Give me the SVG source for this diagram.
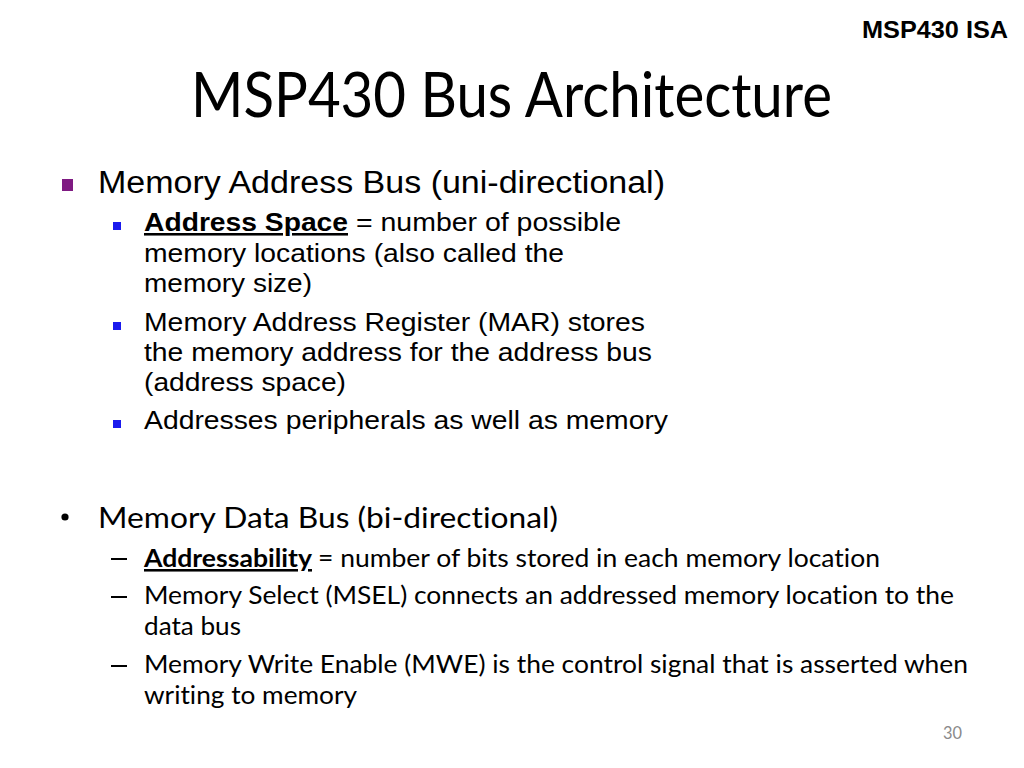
<svg xmlns="http://www.w3.org/2000/svg" width="1024" height="768" viewBox="0 0 1024 768">
  <style>
    .arial { font-family: "Liberation Sans", Arial, sans-serif; fill: #000; }
    .cal { font-family: Lato, "Open Sans", sans-serif; fill: #000; font-variant-ligatures: none; }
    .b { font-weight: bold; }
    .u { text-decoration: underline; }
    .l1 { font-size: 31px; }
    .l2 { font-size: 25.6px; }
    .c1 { font-size: 28.4px; }
    .c2 { font-size: 25.6px; }
  </style>
  <rect x="0" y="0" width="1024" height="768" fill="#ffffff"/>

  <g id="header">
    <text class="arial b" x="862" y="38" font-size="24" textLength="146" lengthAdjust="spacingAndGlyphs">MSP430 ISA</text>
    <text class="cal" x="191" y="117" font-size="62" textLength="641" lengthAdjust="spacingAndGlyphs">MSP430 Bus Architecture</text>
  </g>

  <g id="address-bus">
    <rect x="62" y="179" width="11" height="12" fill="#7f1a82"/>
    <text class="arial l1" x="98" y="193" textLength="567" lengthAdjust="spacingAndGlyphs">Memory Address Bus (uni-directional)</text>

    <rect x="113" y="222" width="8" height="8" fill="#1a1aee"/>
    <text class="arial l2 b u" x="144" y="231" textLength="204" lengthAdjust="spacingAndGlyphs">Address Space</text>
    <text class="arial l2" x="356" y="231" textLength="265" lengthAdjust="spacingAndGlyphs">= number of possible</text>
    <text class="arial l2" x="144" y="262" textLength="420" lengthAdjust="spacingAndGlyphs">memory locations (also called the</text>
    <text class="arial l2" x="144" y="292" textLength="168" lengthAdjust="spacingAndGlyphs">memory size)</text>

    <rect x="113" y="322" width="8" height="8" fill="#1a1aee"/>
    <text class="arial l2" x="144" y="331" textLength="501" lengthAdjust="spacingAndGlyphs">Memory Address Register (MAR) stores</text>
    <text class="arial l2" x="144" y="361" textLength="508" lengthAdjust="spacingAndGlyphs">the memory address for the address bus</text>
    <text class="arial l2" x="144" y="391" textLength="202" lengthAdjust="spacingAndGlyphs">(address space)</text>

    <rect x="113" y="420" width="8" height="8" fill="#1a1aee"/>
    <text class="arial l2" x="144" y="429" textLength="524" lengthAdjust="spacingAndGlyphs">Addresses peripherals as well as memory</text>
  </g>

  <g id="data-bus">
    <circle cx="65" cy="517" r="3.6" fill="#000"/>
    <text class="cal c1" x="98" y="528" textLength="460" lengthAdjust="spacingAndGlyphs">Memory Data Bus (bi-directional)</text>

    <rect x="111" y="558" width="16" height="2" fill="#000"/>
    <text class="cal c2 b u" x="144" y="567" textLength="168" lengthAdjust="spacingAndGlyphs">Addressability</text>
    <text class="cal c2" x="318" y="567" textLength="562" lengthAdjust="spacingAndGlyphs">= number of bits stored in each memory location</text>

    <rect x="111" y="596" width="16" height="2" fill="#000"/>
    <text class="cal c2" x="144" y="604" textLength="810" lengthAdjust="spacingAndGlyphs">Memory Select (MSEL) connects an addressed memory location to the</text>
    <text class="cal c2" x="144" y="635" textLength="97" lengthAdjust="spacingAndGlyphs">data bus</text>

    <rect x="111" y="665" width="16" height="2" fill="#000"/>
    <text class="cal c2" x="144" y="673" textLength="824" lengthAdjust="spacingAndGlyphs">Memory Write Enable (MWE) is the control signal that is asserted when</text>
    <text class="cal c2" x="144" y="704" textLength="213" lengthAdjust="spacingAndGlyphs">writing to memory</text>
  </g>

  <g id="footer">
    <text class="cal" x="943" y="739" font-size="18" style="fill:#8a8a8a" textLength="19" lengthAdjust="spacingAndGlyphs">30</text>
  </g>
</svg>
